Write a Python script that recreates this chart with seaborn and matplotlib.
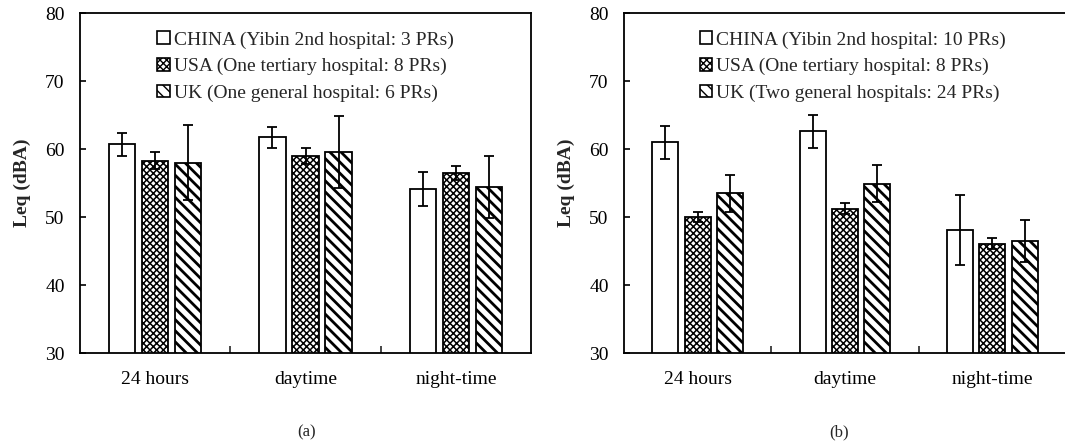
import pandas as pd
import numpy as np
import seaborn as sns
import matplotlib.pyplot as plt

periods = ["24 hours", "daytime", "night-time"]

labels_a = ["CHINA (Yibin 2nd hospital: 3 PRs)",
            "USA (One tertiary hospital: 8 PRs)",
            "UK (One general hospital: 6 PRs)"]
china_a = [60.7, 61.7, 54.1]
china_a_err = [1.7, 1.5, 2.5]
usa_a = [58.3, 59.0, 56.5]
usa_a_err = [1.2, 1.2, 1.0]
uk_a = [58.0, 59.6, 54.4]
uk_a_err = [5.5, 5.3, 4.5]

labels_b = ["CHINA (Yibin 2nd hospital: 10 PRs)",
            "USA (One tertiary hospital: 8 PRs)",
            "UK (Two general hospitals: 24 PRs)"]
china_b = [61.0, 62.6, 48.1]
china_b_err = [2.4, 2.4, 5.1]
usa_b = [50.0, 51.2, 46.1]
usa_b_err = [0.8, 0.8, 0.8]
uk_b = [53.5, 54.9, 46.5]
uk_b_err = [2.7, 2.7, 3.1]

sns.set_theme(style="ticks")
plt.rcParams['font.family'] = ['Liberation Serif', 'DejaVu Serif']
plt.rcParams['hatch.color'] = 'black'
plt.rcParams['hatch.linewidth'] = 1.0

hatches = ['', 'xxxxx', '\\\\\\']
hatch_lw = [1.0, 1.1, 2.0]


def draw(ax, labels, vals, errs):
    df = pd.DataFrame({
        "period": periods * 3,
        "site": np.repeat(labels, 3),
        "leq": vals[0] + vals[1] + vals[2],
    })
    sns.barplot(data=df, x="period", y="leq", hue="site", order=periods,
                hue_order=labels, palette=['white'] * 3, width=0.66, gap=0.2,
                errorbar=None, edgecolor='black', linewidth=1.3, ax=ax,
                saturation=1)
    bars = list(ax.containers)
    for k, cont in enumerate(bars):
        xs = []
        for p in cont.patches:
            p.set_hatch(hatches[k])
            if hasattr(p, 'set_hatch_linewidth'):
                p.set_hatch_linewidth(hatch_lw[k])
            xs.append(p.get_x() + p.get_width() / 2)
        ax.errorbar(xs, vals[k], yerr=errs[k], fmt='none', ecolor='black',
                    elinewidth=1.3, capsize=3.8, capthick=1.3, zorder=5)
    handles = []
    for k in range(3):
        h = plt.Rectangle((0, 0), 1, 1, facecolor='white', edgecolor='black',
                          hatch=hatches[k], linewidth=1.2)
        if hasattr(h, 'set_hatch_linewidth'):
            h.set_hatch_linewidth(hatch_lw[k] * 0.6)
        handles.append(h)
    ax.legend(handles, labels, loc='upper left', bbox_to_anchor=(0.145, 0.98),
              frameon=False, fontsize=14, handlelength=0.65, handleheight=0.65,
              handletextpad=0.2, labelspacing=0.47, borderaxespad=0.2)
    ax.set_ylim(30, 80)
    ax.set_xlim(-0.5, 2.5)
    ax.set_yticks([30, 40, 50, 60, 70, 80])
    ax.set_xticks([0.5, 1.5], minor=True)
    ax.tick_params(axis='y', direction='in', length=4, width=1.2, labelsize=14,
                   pad=11, colors='black')
    ax.tick_params(axis='x', which='major', length=0, labelsize=14, pad=13,
                   colors='black')
    ax.tick_params(axis='x', which='minor', direction='in', length=5, width=1.2)
    ax.set_xlabel("")
    ax.set_ylabel("Leq (dBA)", fontsize=14, fontweight='bold', labelpad=10)
    for s in ax.spines.values():
        s.set_linewidth(1.3)
        s.set_color('black')


fig = plt.figure(figsize=(10.65, 4.46), dpi=100)
ax1 = fig.add_axes([80 / 1065, 93 / 446, 451 / 1065, 340 / 446])
ax2 = fig.add_axes([624 / 1065, 93 / 446, 442 / 1065, 340 / 446])

draw(ax1, labels_a, [china_a, usa_a, uk_a], [china_a_err, usa_a_err, uk_a_err])
draw(ax2, labels_b, [china_b, usa_b, uk_b], [china_b_err, usa_b_err, uk_b_err])

fig.text(307 / 1065, 1 - 432 / 446, "(a)", ha='center', va='center', fontsize=12)
fig.text(839 / 1065, 1 - 432 / 446, "(b)", ha='center', va='center', fontsize=12)

fig.savefig("out.png", dpi=100, facecolor='white')
